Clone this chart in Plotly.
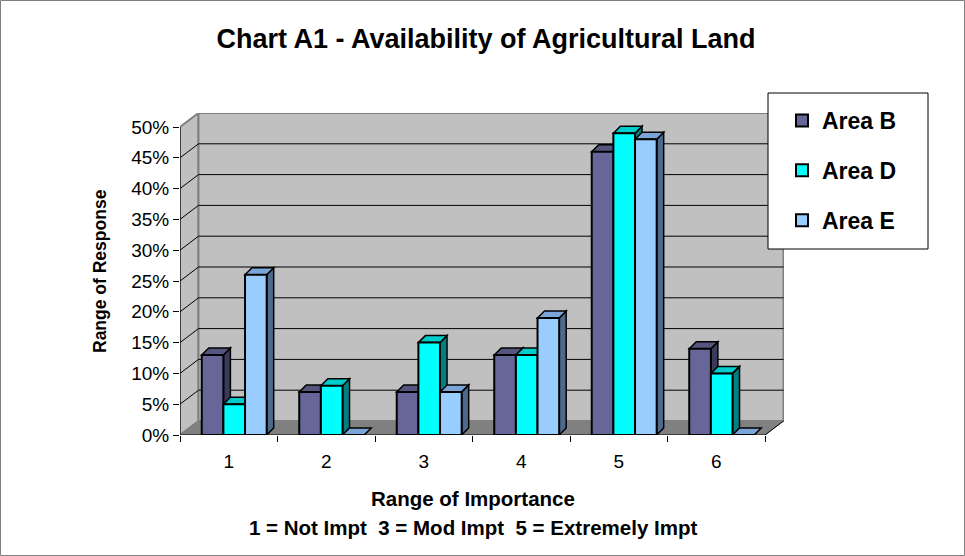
import plotly.graph_objects as go

# ---------------- data ----------------
categories = [1, 2, 3, 4, 5, 6]
tick_labels = ["1", "2", "3", "4", "5", "6"]
series_names = ["Area B", "Area D", "Area E"]
area_b = [0.13, 0.07, 0.07, 0.13, 0.46, 0.14]
area_d = [0.05, 0.08, 0.15, 0.13, 0.49, 0.10]
area_e = [0.26, 0.00, 0.07, 0.19, 0.48, 0.00]
y_ticks = [0.0, 0.05, 0.10, 0.15, 0.20, 0.25, 0.30, 0.35, 0.40, 0.45, 0.50]

title_text = "Chart A1 - Availability of Agricultural Land"
y_title = "Range of Response"
x_title = "Range of Importance"
x_subtitle = "1 = Not Impt  3 = Mod Impt  5 = Extremely Impt"

# ---------------- styles ----------------
FONT = "Liberation Sans, Arial, sans-serif"
front_colors = ["#666699", "#00FFFF", "#99CCFF"]
side_colors = ["#3A3A5C", "#008080", "#4D6A8C"]
top_colors = ["#55557F", "#00CCCC", "#7BA5D6"]

W, H = 965, 556
ML, MR, MT, MB = 180, 181, 113, 121
plot_w = W - ML - MR
plot_h = H - MT - MB
px_x = 97.5            # pixels per category unit
px_y = 616.0           # pixels per 1.0 (100%)
x_lo, x_hi = 0.5, 6.5
x_range = [x_lo, x_lo + plot_w / px_x]
y_range = [0, plot_h / px_y]
y_top = 0.5

dxw, dyw = 18.5 / px_x, 14 / px_y      # wall depth
dxb, dyb = 7 / px_x, 7 / px_y          # bar depth
bar_w = 0.222
offsets = [-0.277, -0.055, 0.167]

series = [area_b, area_d, area_e]

fig = go.Figure()
for i, (name, vals) in enumerate(zip(series_names, series)):
    fig.add_trace(go.Bar(
        x=categories, y=vals, name=name,
        width=[bar_w] * len(categories), offset=offsets[i],
        marker=dict(color=front_colors[i], line=dict(color="black", width=2)),
        legendgroup=name,
    ))

shapes = []
# floor
shapes.append(dict(type="path", layer="below", xref="x", yref="y",
                   path=f"M{x_lo},0 L{x_hi},0 L{x_hi+dxw},{dyw} L{x_lo+dxw},{dyw} Z",
                   fillcolor="#808080", line=dict(color="#808080", width=1)))
# left wall
shapes.append(dict(type="path", layer="below", xref="x", yref="y",
                   path=f"M{x_lo},0 L{x_lo},{y_top} L{x_lo+dxw},{y_top+dyw} L{x_lo+dxw},{dyw} Z",
                   fillcolor="#C0C0C0", line=dict(color="#808080", width=2)))
# back wall
shapes.append(dict(type="rect", layer="below", xref="x", yref="y",
                   x0=x_lo+dxw, x1=x_hi+dxw, y0=dyw, y1=y_top+dyw,
                   fillcolor="#C0C0C0", line=dict(color="#808080", width=2)))
# gridlines
for v in y_ticks[1:-1]:
    shapes.append(dict(type="path", layer="below", xref="x", yref="y",
                       path=f"M{x_lo},{v} L{x_lo+dxw},{v+dyw} L{x_hi+dxw},{v+dyw}",
                       line=dict(color="black", width=1)))
# bar depth faces
for ci, c in enumerate(categories):
    for si, vals in enumerate(series):
        v = vals[ci]
        x0 = c + offsets[si]
        x1 = x0 + bar_w
        if v > 0:
            shapes.append(dict(type="path", layer="below", xref="x", yref="y",
                               path=f"M{x1},0 L{x1},{v} L{x1+dxb},{v+dyb} L{x1+dxb},{dyb} Z",
                               fillcolor=side_colors[si], line=dict(color="black", width=1.5)))
        shapes.append(dict(type="path", layer="below", xref="x", yref="y",
                           path=f"M{x0},{v} L{x1},{v} L{x1+dxb},{v+dyb} L{x0+dxb},{v+dyb} Z",
                           fillcolor=top_colors[si], line=dict(color="black", width=1.5)))
# axis lines
shapes.append(dict(type="line", xref="x", yref="y", x0=x_lo, x1=x_lo, y0=0, y1=y_top,
                   line=dict(color="black", width=1)))
shapes.append(dict(type="line", xref="x", yref="y", x0=x_lo, x1=x_hi, y0=0, y1=0,
                   line=dict(color="black", width=1)))
shapes.append(dict(type="line", xref="x", yref="y", x0=x_hi, x1=x_hi+dxw, y0=0, y1=dyw,
                   line=dict(color="black", width=1)))
# legend box
lx0, lx1, ly0, ly1 = 768, 928, 93, 249
shapes.append(dict(type="rect", xref="paper", yref="paper",
                   x0=(lx0-ML)/plot_w, x1=(lx1-ML)/plot_w,
                   y0=(H-MB-ly1)/plot_h, y1=(H-MB-ly0)/plot_h,
                   fillcolor="white", line=dict(color="black", width=1), layer="above"))
# outer border
shapes.append(dict(type="rect", xref="paper", yref="paper",
                   x0=(0.5-ML)/plot_w, x1=(W-0.5-ML)/plot_w,
                   y0=(0.5-MB)/plot_h, y1=(H-0.5-MB)/plot_h,
                   line=dict(color="#808080", width=1), layer="below"))

annotations = [
    dict(text=f"<b>{y_title}</b>", xref="paper", yref="paper",
         x=(100-ML)/plot_w, y=(H-MB-271)/plot_h, textangle=-90,
         showarrow=False, font=dict(size=17.5, family=FONT, color="black"),
         xanchor="center", yanchor="middle"),
    dict(text=f"<b>{x_title}</b>", xref="paper", yref="paper",
         x=(473-ML)/plot_w, y=(H-MB-498)/plot_h,
         showarrow=False, font=dict(size=20.5, family=FONT, color="black"),
         xanchor="center", yanchor="middle"),
    dict(text=f"<b>{x_subtitle}</b>", xref="paper", yref="paper",
         x=(473-ML)/plot_w, y=(H-MB-527)/plot_h,
         showarrow=False, font=dict(size=20.5, family=FONT, color="black"),
         xanchor="center", yanchor="middle"),
]

fig.update_layout(
    width=W, height=H,
    margin=dict(l=ML, r=MR, t=MT, b=MB, pad=0, autoexpand=False),
    paper_bgcolor="white", plot_bgcolor="white",
    font=dict(family=FONT, color="black"),
    title=dict(text=f"<b>{title_text}</b>", x=486/W, xanchor="center",
               y=1-39/H, yanchor="middle", yref="container",
               font=dict(size=27, family=FONT, color="black")),
    barmode="overlay",
    showlegend=True,
    legend=dict(x=(782-ML)/plot_w, y=(H-MB-99)/plot_h, xanchor="left", yanchor="top",
                bgcolor="rgba(0,0,0,0)", borderwidth=0,
                font=dict(size=23, family=FONT, color="black", weight="bold"),
                tracegroupgap=17, traceorder="grouped"),
    shapes=shapes,
    annotations=annotations,
)
fig.update_xaxes(range=x_range, tickmode="array", tickvals=categories, ticktext=tick_labels,
                 ticks="", showgrid=False, zeroline=False, showline=False, automargin=False,
                 tickfont=dict(size=19, family=FONT, color="black"),
                 ticklabelstandoff=13,
                 minor=dict(ticks="outside", tick0=0.5, dtick=1, ticklen=6,
                            tickcolor="black", tickwidth=1, showgrid=False))
fig.update_yaxes(range=y_range, tickmode="array", tickvals=y_ticks, tickformat=".0%",
                 ticks="outside", ticklen=6, tickcolor="black", tickwidth=1,
                 showgrid=False, zeroline=False, showline=False, automargin=False,
                 tickfont=dict(size=19, family=FONT, color="black"))

fig.write_html("out.html", config={"displayModeBar": False},
               post_script="document.body.style.margin='0';document.body.style.padding='0';")
